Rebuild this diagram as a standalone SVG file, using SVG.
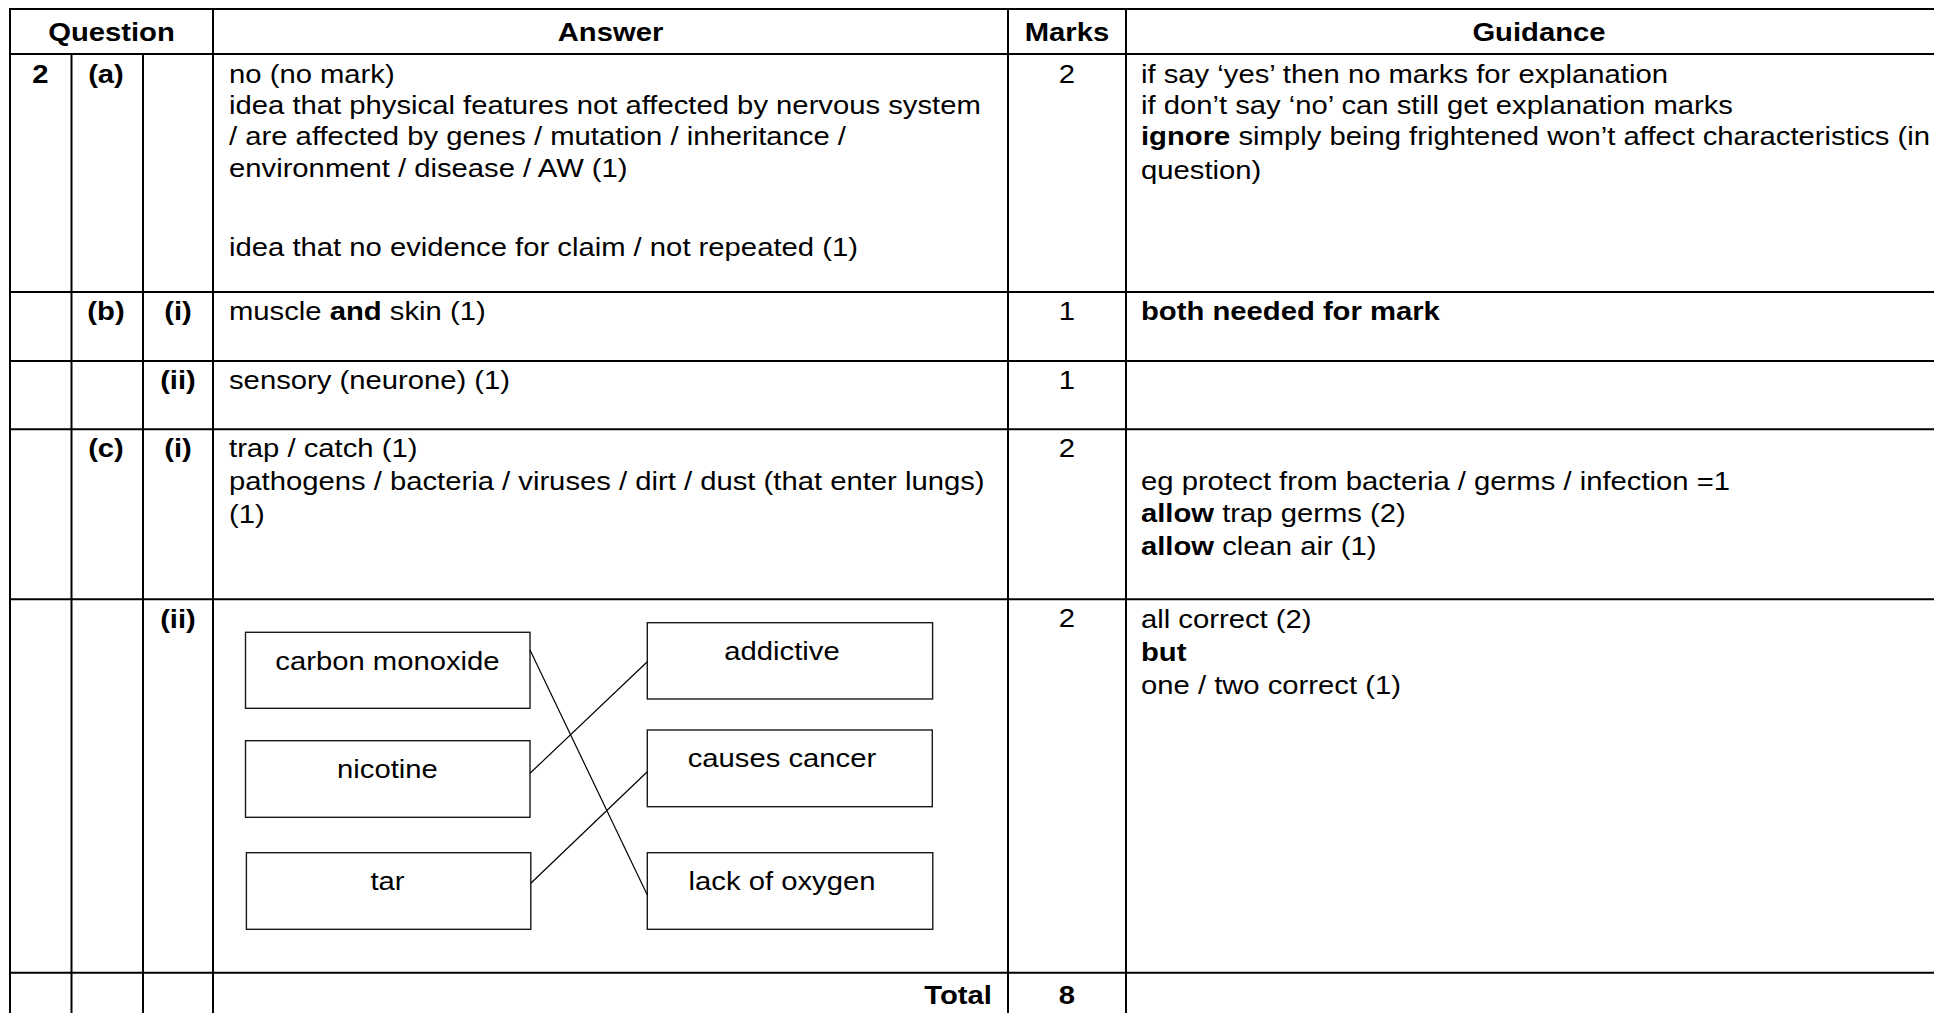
<svg xmlns="http://www.w3.org/2000/svg" width="1934" height="1013" viewBox="0 0 1934 1013">
<style>
.t{font-family:"Liberation Sans",Arial,sans-serif;font-size:26px;fill:#000;transform:scale(1.125,1);transform-origin:0 0;transform-box:view-box}
.b{font-weight:bold}
.m{text-anchor:middle}
.e{text-anchor:end}
.grid line{stroke:#000;stroke-width:2}
.box rect{fill:#fff;stroke:#1a1a1a;stroke-width:1.4}
.conn line{stroke:#000;stroke-width:1.2}
</style>
<rect x="0" y="0" width="1934" height="1013" fill="#fff"/>
<g id="grid" class="grid">
<line x1="9" y1="9" x2="1934" y2="9"/>
<line x1="9" y1="54" x2="1934" y2="54"/>
<line x1="9" y1="292" x2="1934" y2="292"/>
<line x1="9" y1="361" x2="1934" y2="361"/>
<line x1="9" y1="429.3" x2="1934" y2="429.3"/>
<line x1="9" y1="599.3" x2="1934" y2="599.3"/>
<line x1="9" y1="972.7" x2="1934" y2="972.7"/>
<line x1="10" y1="8" x2="10" y2="1013"/>
<line x1="71.5" y1="54" x2="71.5" y2="1013"/>
<line x1="143" y1="54" x2="143" y2="1013"/>
<line x1="213" y1="8" x2="213" y2="1013"/>
<line x1="1008" y1="8" x2="1008" y2="1013"/>
<line x1="1126" y1="8" x2="1126" y2="1013"/>
</g>
<g id="header">
<text class="t b m" x="99.11" y="41.5">Question</text>
<text class="t b m" x="542.67" y="41.5">Answer</text>
<text class="t b m" x="948.44" y="41.5">Marks</text>
<text class="t b m" x="1368" y="41.5">Guidance</text>
</g>
<g id="row-2a">
<text class="t b m" x="36" y="83.5">2</text>
<text class="t b m" x="94.22" y="83.5">(a)</text>
<text class="t" x="203.56" y="83.5">no (no mark)</text>
<text class="t" x="203.56" y="114.5">idea that physical features not affected by nervous system</text>
<text class="t" x="203.56" y="145.5">/ are affected by genes / mutation / inheritance /</text>
<text class="t" x="203.56" y="177">environment / disease / AW (1)</text>
<text class="t" x="203.56" y="256">idea that no evidence for claim / not repeated (1)</text>
<text class="t m" x="948.44" y="83.5">2</text>
<text class="t" x="1014.22" y="83.5">if say ‘yes’ then no marks for explanation</text>
<text class="t" x="1014.22" y="114.5">if don’t say ‘no’ can still get explanation marks</text>
<text class="t" x="1014.22" y="145.5"><tspan class="b">ignore</tspan> simply being frightened won’t affect characteristics (in</text>
<text class="t" x="1014.22" y="179">question)</text>
</g>
<g id="row-2bi">
<text class="t b m" x="94.22" y="320">(b)</text>
<text class="t b m" x="158.22" y="320">(i)</text>
<text class="t" x="203.56" y="320">muscle <tspan class="b">and</tspan> skin (1)</text>
<text class="t m" x="948.44" y="320">1</text>
<text class="t b" x="1014.22" y="320">both needed for mark</text>
</g>
<g id="row-2bii">
<text class="t b m" x="158.22" y="389">(ii)</text>
<text class="t" x="203.56" y="389">sensory (neurone) (1)</text>
<text class="t m" x="948.44" y="389">1</text>
</g>
<g id="row-2ci">
<text class="t b m" x="94.22" y="457">(c)</text>
<text class="t b m" x="158.22" y="457">(i)</text>
<text class="t" x="203.56" y="457">trap / catch (1)</text>
<text class="t" x="203.56" y="490">pathogens / bacteria / viruses / dirt / dust (that enter lungs)</text>
<text class="t" x="203.56" y="523">(1)</text>
<text class="t m" x="948.44" y="457">2</text>
<text class="t" x="1014.22" y="490">eg protect from bacteria / germs / infection =1</text>
<text class="t" x="1014.22" y="522"><tspan class="b">allow</tspan> trap germs (2)</text>
<text class="t" x="1014.22" y="555"><tspan class="b">allow</tspan> clean air (1)</text>
</g>
<g id="row-2cii">
<text class="t b m" x="158.22" y="628">(ii)</text>
<text class="t m" x="948.44" y="627">2</text>
<text class="t" x="1014.22" y="628">all correct (2)</text>
<text class="t b" x="1014.22" y="661">but</text>
<text class="t" x="1014.22" y="694">one / two correct (1)</text>
</g>
<g id="box-carbon-monoxide" class="box">
<rect x="245.5" y="632.3" width="284.5" height="76"/>
<text class="t m" x="344.44" y="670">carbon monoxide</text>
</g>
<g id="box-nicotine" class="box">
<rect x="245.5" y="740.7" width="284.5" height="76.6"/>
<text class="t m" x="344.44" y="778">nicotine</text>
</g>
<g id="box-tar" class="box">
<rect x="246.4" y="852.7" width="284.4" height="76.6"/>
<text class="t m" x="344.44" y="890">tar</text>
</g>
<g id="box-addictive" class="box">
<rect x="647.3" y="622.7" width="285.3" height="76.3"/>
<text class="t m" x="695.11" y="660">addictive</text>
</g>
<g id="box-causes-cancer" class="box">
<rect x="647.3" y="730" width="285" height="76.7"/>
<text class="t m" x="695.11" y="767">causes cancer</text>
</g>
<g id="box-lack-of-oxygen" class="box">
<rect x="647.3" y="852.7" width="285.5" height="76.6"/>
<text class="t m" x="695.11" y="890">lack of oxygen</text>
</g>
<g id="connectors" class="conn">
<line x1="530" y1="650" x2="647.3" y2="895"/>
<line x1="530" y1="773.3" x2="647.3" y2="661.7"/>
<line x1="530.8" y1="883.3" x2="647.3" y2="771.7"/>
</g>
<g id="row-total">
<text class="t b e" x="881.78" y="1004">Total</text>
<text class="t b m" x="948.44" y="1004">8</text>
</g>
</svg>
